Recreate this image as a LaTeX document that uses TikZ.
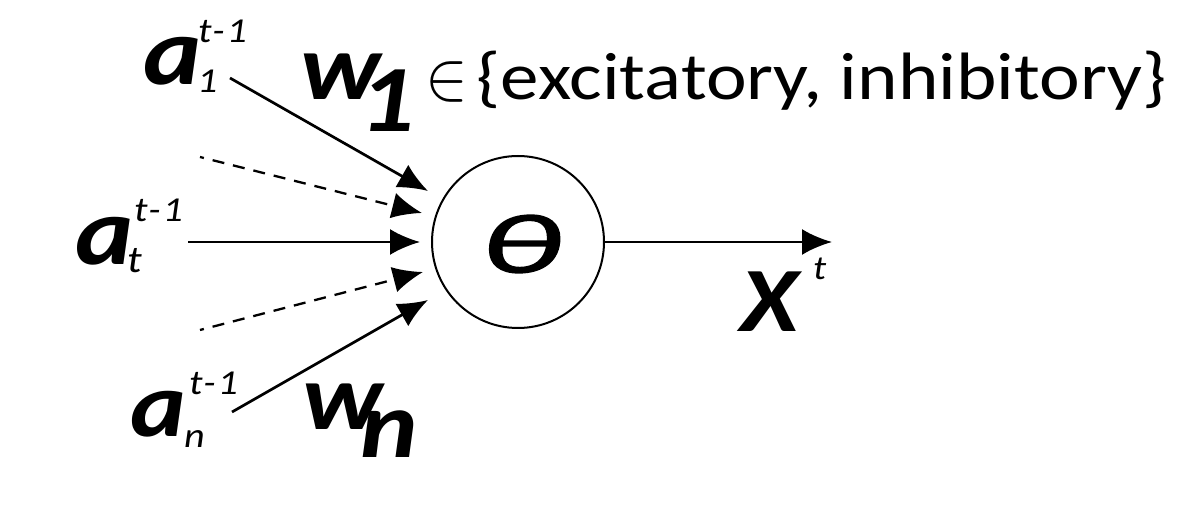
\documentclass[tikz,border=0pt]{standalone}
\usepackage{fontspec}
\setmainfont{Carlito}[FakeStretch=1.15]
\usetikzlibrary{arrows.meta}

\begin{document}
\begin{tikzpicture}[x=1pt, y=-1pt, every node/.style={inner sep=0pt, outer sep=0pt}, >={Latex[length=30pt, width=26pt]},
	letter/.style={anchor=base west, font=\fontsize{96}{96}\selectfont\bfseries\itshape},
	script/.style={anchor=base west, font=\fontsize{35}{35}\selectfont\itshape\addfontfeature{LetterSpace=6}},
	wire/.style={line width=2.7pt, ->},
	dwire/.style={line width=2.3pt, ->, dash pattern=on 12pt off 9pt, dash phase=8pt}]
	\useasboundingbox (0,0) rectangle (1179,526);
	\node[draw, circle, line width=2pt, minimum size=172pt] (neuron) at (518,242) {};
	\node[font=\fontsize{84}{84}\selectfont\itshape\addfontfeature{FakeBold=1.6}] (theta) at (521,244) {\scalebox{1.5}[1]{θ}};
	\node[letter] (a1) at (143,85) {a};
	\node[script] (a1sub) at (197,93) {1};
	\node[script] (a1sup) at (198,43) {t-1};
	\node[letter] (at) at (75,265) {a};
	\node[script, font=\fontsize{38}{38}\selectfont\itshape] (atsub) at (127,273) {t};
	\node[script] (atsup) at (134,222) {t-1};
	\node[letter, font=\fontsize{92}{92}\selectfont\bfseries\itshape] (an) at (130,437) {a};
	\node[script] (ansub) at (184,448) {n};
	\node[script] (ansup) at (189,395) {t-1};
	\node[letter, font=\fontsize{94}{94}\selectfont\bfseries\itshape] (w1) at (300,100) {w};
	\node[letter, font=\fontsize{95}{95}\selectfont\bfseries\itshape] (w1sub) at (359,132) {1};
	\node[anchor=base west, font=\fontsize{67}{67}\selectfont] (kinds) at (425,100) {{\fontsize{10}{10}\selectfont\scalebox{6.4}[7]{$\in$}}\hspace{9pt}\{excitatory, inhibitory\}};
	\node[letter, font=\fontsize{94}{94}\selectfont\bfseries\itshape] (wn) at (302,430) {w};
	\node[letter, font=\fontsize{95}{95}\selectfont\bfseries\itshape] (wnsub) at (360,458) {n};
	\node[letter, font=\fontsize{92}{92}\selectfont\bfseries\itshape] (out) at (740,332) {X};
	\node[script, font=\fontsize{34}{34}\selectfont\itshape] (outsup) at (813,280) {t};
	\coordinate (s1) at (230,78);
	\coordinate (s2) at (200,157);
	\coordinate (s3) at (188,242);
	\coordinate (s4) at (200,330);
	\coordinate (s5) at (232,412);
	\coordinate (e1) at (428,191);
	\coordinate (e2) at (422,213);
	\coordinate (e3) at (420,242);
	\coordinate (e4) at (423,272);
	\coordinate (e5) at (428,300);
	\coordinate (xend) at (832,242);
	\draw[wire] (s1) -- (e1);
	\draw[dwire] (s2) -- (e2);
	\draw[wire] (s3) -- (e3);
	\draw[dwire] (s4) -- (e4);
	\draw[wire] (s5) -- (e5);
	\draw[wire] (neuron.east) -- (xend);
\end{tikzpicture}
\end{document}
